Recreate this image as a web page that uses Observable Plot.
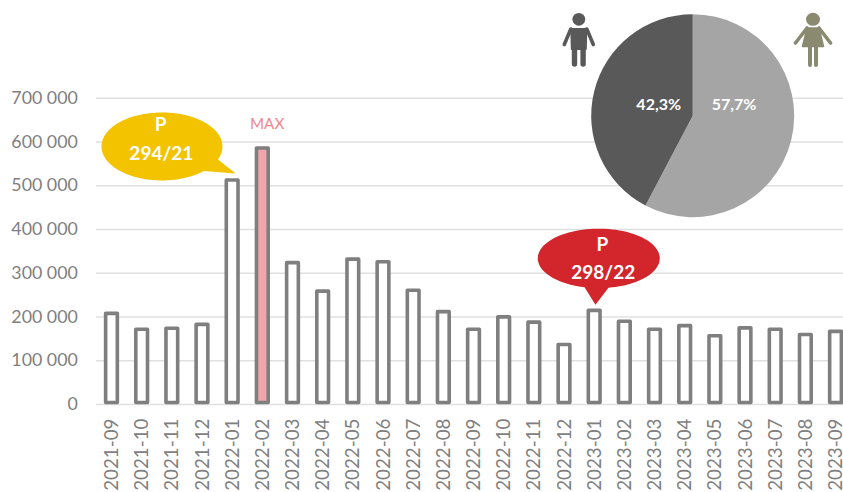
<!DOCTYPE html>
<html><head><meta charset="utf-8">
<script src="https://cdn.jsdelivr.net/npm/d3@7"></script>
<script src="https://cdn.jsdelivr.net/npm/@observablehq/plot@0.6"></script>
<style>html,body{margin:0;padding:0;background:#fff;overflow:hidden}svg{display:block}</style>
</head><body><div id="chart"></div>
<script>
const months = ["2021-09","2021-10","2021-11","2021-12","2022-01","2022-02","2022-03","2022-04","2022-05","2022-06","2022-07","2022-08","2022-09","2022-10","2022-11","2022-12","2023-01","2023-02","2023-03","2023-04","2023-05","2023-06","2023-07","2023-08","2023-09"];
const values = [207000,171000,173000,182000,512000,585000,323000,258000,331000,325000,260000,211000,171000,199000,187000,136000,214000,189000,171000,179000,156000,174000,171000,159000,166000];
const yTicks = [0,100000,200000,300000,400000,500000,600000,700000];
const maxMonth = "2022-02";
const pieLabels = ["57,7%","42,3%"];
const pieValues = [57.7,42.3];
const pieColors = ["#a5a5a5","#595959"];
const callouts = [
  {month:"2022-01", line1:"P", line2:"294/21", color:"#f4c300"},
  {month:"2023-01", line1:"P", line2:"298/22", color:"#d2262c"}
];
const rows = months.map((month,i)=>({month,value:values[i]}));
callouts.forEach(c=>c.value=values[months.indexOf(c.month)]);
const font = "Lato, 'Open Sans', sans-serif";
const fmt = d => d3.format(",")(d).replace(/,/g," ");

// Speech-bubble outline, with the tail's tip at the symbol's origin
function bubble(cx,cy,rx,ry,a0,a1){
  return {draw(ctx){
    ctx.moveTo(0,0);
    for(let i=0;i<=96;i++){const a=a0+(a1-a0)*i/96;ctx.lineTo(cx+rx*Math.cos(a),cy+ry*Math.sin(a));}
    ctx.closePath();
  }};
}
const yellowSymbol = bubble(-73.7,-27,60.5,34,0.81,2*Math.PI+0.39);
const redSymbol = bubble(3.3,-46.5,61,29.7,Math.PI/2+0.236,2*Math.PI+Math.PI/2-0.16);

function pieMark(){
  const g = d3.create("svg:g").attr("transform","translate(692.7,115.7)");
  const arcs = d3.pie().sort(null)(pieValues);
  const arc = d3.arc().innerRadius(0).outerRadius(101.5);
  g.selectAll("path").data(arcs).join("path").attr("d",arc).attr("fill",(d,i)=>pieColors[i]);
  g.selectAll("text").data(arcs).join("text")
    .attr("x",(d,i)=>i==0?41.3:-34).attr("y",-11.4).attr("dy","0.35em").attr("text-anchor","middle").attr("fill","#fff")
    .attr("font-family",font).attr("font-weight",700).attr("font-size",16)
    .text((d,i)=>pieLabels[i]);
  return g.node();
}
function iconsMark(){
  const g = d3.create("svg:g").style("filter","blur(0.45px)");
  const man = g.append("g").attr("transform","translate(578.8,13)").attr("fill","#595959").attr("stroke","#595959").attr("stroke-linecap","round").attr("stroke-linejoin","round");
  man.append("circle").attr("cy",6.3).attr("r",6.4).attr("stroke","none");
  man.append("path").attr("d","M-7.5,16H7.5L7,36H-7Z").attr("stroke-width",2);
  man.append("path").attr("d","M-8,16L-14.5,31.5M8,16L14.5,31.5").attr("fill","none").attr("stroke-width",3.6);
  man.append("path").attr("d","M-4.3,35V51M4.3,35V51").attr("fill","none").attr("stroke-width",5.4);
  const w = g.append("g").attr("transform","translate(813,13)").attr("fill","#8a8a70").attr("stroke","#8a8a70").attr("stroke-linecap","round").attr("stroke-linejoin","round");
  w.append("ellipse").attr("cy",6.3).attr("rx",7).attr("ry",6.5).attr("stroke","none");
  w.append("path").attr("d","M-6,15H6L10.5,33.5H-10.5Z").attr("stroke-width",1.5);
  w.append("path").attr("d","M-6,15L-17.5,30M6,15L17.5,30").attr("fill","none").attr("stroke-width",3.6);
  w.append("path").attr("d","M-3,34V52M3,34V52").attr("fill","none").attr("stroke-width",4);
  return g.node();
}

const chart = Plot.plot({
  width:843, height:492, marginLeft:96, marginRight:0, marginTop:0, marginBottom:0,
  style:{background:"#fff",fontFamily:font,overflow:"hidden"},
  x:{type:"band",domain:months,range:[96.4,850.6],paddingInner:0.612,paddingOuter:0.306,round:false,axis:null},
  y:{domain:[0,700000],range:[404,97.7],axis:null},
  marks:[
    Plot.ruleY(yTicks,{stroke:"#e0e0e0",strokeWidth:1.5}),
    Plot.text(yTicks,{y:d=>d,text:fmt,frameAnchor:"left",textAnchor:"end",dx:-18.7,fontSize:17.8,fill:"#7f7f7f"}),
    Plot.barY(rows,{x:"month",y:"value",insetBottom:1.5,fill:d=>d.month===maxMonth?"#f0a6ab":"#fff",stroke:"#7f7f7f",strokeWidth:3.6,strokeLinejoin:"round",
      style:"filter:drop-shadow(0 0 2px rgba(0,0,0,.25))"}),
    Plot.text(months,{x:d=>d,y:()=>0,text:d=>d,rotate:-90,textAnchor:"end",dy:14,fontSize:18.8,fill:"#7f7f7f"}),
    Plot.text([maxMonth],{x:d=>d,y:()=>values[months.indexOf(maxMonth)],text:()=>"MAX",dy:-24.6,dx:4.3,fontSize:15.2,fill:"#f0878d"}),
    pieMark,
    iconsMark,
    Plot.dot(callouts.slice(0,1),{x:"month",y:"value",symbol:yellowSymbol,r:10,fill:"color",dy:-7,dx:3}),
    Plot.dot(callouts.slice(1),{x:"month",y:"value",symbol:redSymbol,r:10,fill:"color",dy:-6,dx:0.8}),
    Plot.text(callouts.slice(0,1),{x:"month",y:"value",text:"line1",dx:-72,dy:-55.4,fill:"#fff",fontWeight:700,fontSize:19}),
    Plot.text(callouts.slice(0,1),{x:"month",y:"value",text:"line2",dx:-71.3,dy:-27,fill:"#fff",fontWeight:700,fontSize:19}),
    Plot.text(callouts.slice(1),{x:"month",y:"value",text:"line1",dx:7.8,dy:-66.3,fill:"#fff",fontWeight:700,fontSize:19}),
    Plot.text(callouts.slice(1),{x:"month",y:"value",text:"line2",dx:8.6,dy:-37.9,fill:"#fff",fontWeight:700,fontSize:19})
  ]
});
document.getElementById("chart").append(chart);
</script></body></html>
